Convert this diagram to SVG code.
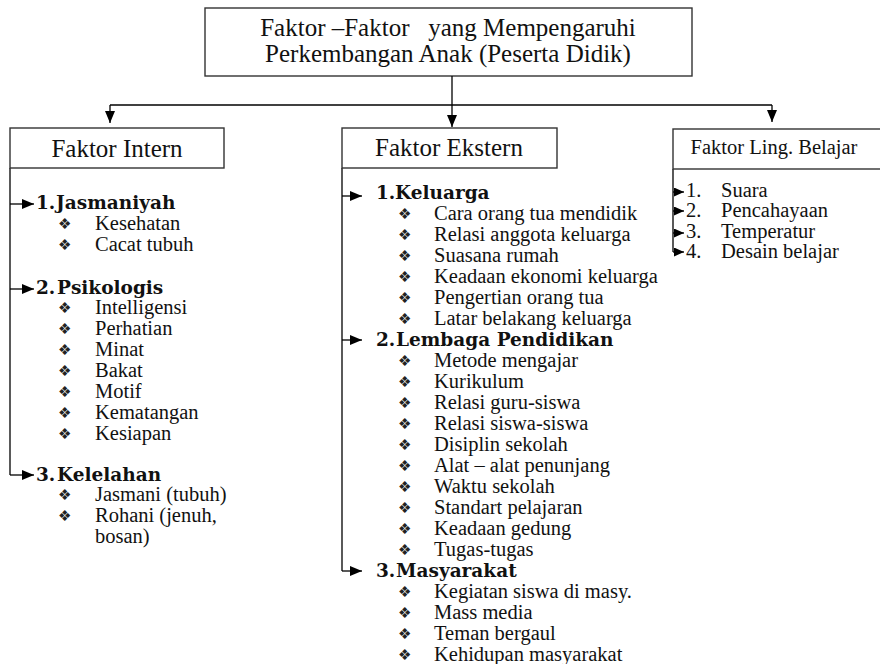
<svg xmlns="http://www.w3.org/2000/svg" width="880" height="664" viewBox="0 0 880 664">
<defs>
<marker id="ah" viewBox="0 0 12 10" refX="12" refY="5" markerWidth="12" markerHeight="10" markerUnits="userSpaceOnUse" orient="auto"><path d="M0,0 L12,5 L0,10 z" fill="#000"/></marker>
<marker id="ahs" viewBox="0 0 10 9" refX="10" refY="4.5" markerWidth="10" markerHeight="9" markerUnits="userSpaceOnUse" orient="auto"><path d="M0,0 L10,4.5 L0,9 z" fill="#000"/></marker>
</defs>
<style>
text{font-family:"Liberation Serif","Times New Roman",serif;fill:#111}
.t{font-size:25px}
.h{font-family:"DejaVu Serif",serif;font-size:18.5px;font-weight:bold}
.b{font-size:20.5px}
.bl{font-family:"DejaVu Sans",sans-serif;font-size:15px;fill:#222}
.box{fill:#fff;stroke:#333;stroke-width:1.4}
.ln{fill:none;stroke:#000;stroke-width:1.3}
</style>
<rect width="880" height="664" fill="#fff"/>

<g id="title">
<rect class="box" x="205" y="8" width="487" height="68"/>
<text class="t" x="448" y="36" text-anchor="middle" xml:space="preserve">Faktor –Faktor   yang Mempengaruhi</text>
<text class="t" x="448" y="62" text-anchor="middle">Perkembangan Anak (Peserta Didik)</text>
</g>

<g id="connectors">
<path class="ln" d="M452,76 V127" marker-end="url(#ah)"/>
<path class="ln" d="M110,105 H772"/>
<path class="ln" d="M110,105 V123" marker-end="url(#ah)"/>
<path class="ln" d="M772,105 V122" marker-end="url(#ah)"/>
<path class="ln" d="M10,168 V475"/>
<path class="ln" d="M10,204 H34" marker-end="url(#ah)"/>
<path class="ln" d="M10,289 H34" marker-end="url(#ah)"/>
<path class="ln" d="M10,475 H34" marker-end="url(#ah)"/>
<path class="ln" d="M342,168 V571"/>
<path class="ln" d="M342,196 H362" marker-end="url(#ah)"/>
<path class="ln" d="M342,340 H362" marker-end="url(#ah)"/>
<path class="ln" d="M342,571 H362" marker-end="url(#ah)"/>
<path class="ln" d="M673,169 V252"/>
<path class="ln" d="M673,192 H684" marker-end="url(#ahs)"/>
<path class="ln" d="M673,211 H684" marker-end="url(#ahs)"/>
<path class="ln" d="M673,233 H684" marker-end="url(#ahs)"/>
<path class="ln" d="M673,252 H684" marker-end="url(#ahs)"/>
</g>

<g id="intern">
<rect class="box" x="10" y="128" width="214" height="40"/>
<text class="t" x="117" y="157" text-anchor="middle">Faktor Intern</text>
<text class="h" x="36" y="209">1.</text><text class="h" x="56" y="209">Jasmaniyah</text>
<text class="bl" x="58" y="229">❖︎</text><text class="b" x="95" y="230">Kesehatan</text>
<text class="bl" x="58" y="250">❖︎</text><text class="b" x="95" y="251">Cacat tubuh</text>
<text class="h" x="36" y="294">2.</text><text class="h" x="57" y="294">Psikologis</text>
<text class="bl" x="58" y="313">❖︎</text><text class="b" x="95" y="314">Intelligensi</text>
<text class="bl" x="58" y="334">❖︎</text><text class="b" x="95" y="335">Perhatian</text>
<text class="bl" x="58" y="355">❖︎</text><text class="b" x="95" y="356">Minat</text>
<text class="bl" x="58" y="376">❖︎</text><text class="b" x="95" y="377">Bakat</text>
<text class="bl" x="58" y="397">❖︎</text><text class="b" x="95" y="398">Motif</text>
<text class="bl" x="58" y="418">❖︎</text><text class="b" x="95" y="419">Kematangan</text>
<text class="bl" x="58" y="439">❖︎</text><text class="b" x="95" y="440">Kesiapan</text>
<text class="h" x="36" y="481">3.</text><text class="h" x="57" y="481">Kelelahan</text>
<text class="bl" x="58" y="500">❖︎</text><text class="b" x="95" y="501">Jasmani (tubuh)</text>
<text class="bl" x="58" y="521">❖︎</text><text class="b" x="95" y="522">Rohani (jenuh,</text>
<text class="b" x="95" y="543">bosan)</text>
</g>

<g id="ekstern">
<rect class="box" x="342" y="128" width="215" height="40"/>
<text class="t" x="449" y="156" text-anchor="middle">Faktor Ekstern</text>
<text class="h" x="376" y="199">1.</text><text class="h" x="395" y="199">Keluarga</text>
<text class="bl" x="398" y="219">❖︎</text><text class="b" x="434" y="220">Cara orang tua mendidik</text>
<text class="bl" x="398" y="240">❖︎</text><text class="b" x="434" y="241">Relasi anggota keluarga</text>
<text class="bl" x="398" y="261">❖︎</text><text class="b" x="434" y="262">Suasana rumah</text>
<text class="bl" x="398" y="282">❖︎</text><text class="b" x="434" y="283">Keadaan ekonomi keluarga</text>
<text class="bl" x="398" y="303">❖︎</text><text class="b" x="434" y="304">Pengertian orang tua</text>
<text class="bl" x="398" y="324">❖︎</text><text class="b" x="434" y="325">Latar belakang keluarga</text>
<text class="h" x="376" y="346">2.</text><text class="h" x="396" y="346">Lembaga Pendidikan</text>
<text class="bl" x="398" y="366">❖︎</text><text class="b" x="434" y="367">Metode mengajar</text>
<text class="bl" x="398" y="387">❖︎</text><text class="b" x="434" y="388">Kurikulum</text>
<text class="bl" x="398" y="408">❖︎</text><text class="b" x="434" y="409">Relasi guru-siswa</text>
<text class="bl" x="398" y="429">❖︎</text><text class="b" x="434" y="430">Relasi siswa-siswa</text>
<text class="bl" x="398" y="450">❖︎</text><text class="b" x="434" y="451">Disiplin sekolah</text>
<text class="bl" x="398" y="471">❖︎</text><text class="b" x="434" y="472">Alat – alat penunjang</text>
<text class="bl" x="398" y="492">❖︎</text><text class="b" x="434" y="493">Waktu sekolah</text>
<text class="bl" x="398" y="513">❖︎</text><text class="b" x="434" y="514">Standart pelajaran</text>
<text class="bl" x="398" y="534">❖︎</text><text class="b" x="434" y="535">Keadaan gedung</text>
<text class="bl" x="398" y="555">❖︎</text><text class="b" x="434" y="556">Tugas-tugas</text>
<text class="h" x="376" y="577">3.</text><text class="h" x="396" y="577">Masyarakat</text>
<text class="bl" x="398" y="597">❖︎</text><text class="b" x="434" y="598">Kegiatan siswa di masy.</text>
<text class="bl" x="398" y="618">❖︎</text><text class="b" x="434" y="619">Mass media</text>
<text class="bl" x="398" y="639">❖︎</text><text class="b" x="434" y="640">Teman bergaul</text>
<text class="bl" x="398" y="660">❖︎</text><text class="b" x="434" y="661">Kehidupan masyarakat</text>
</g>

<g id="lingkungan">
<rect class="box" x="673" y="129" width="215" height="40"/>
<text class="b" x="774" y="154" text-anchor="middle">Faktor Ling. Belajar</text>
<text class="b" x="686" y="197">1.</text><text class="b" x="721" y="197">Suara</text>
<text class="b" x="686" y="217">2.</text><text class="b" x="721" y="217">Pencahayaan</text>
<text class="b" x="686" y="238">3.</text><text class="b" x="721" y="238">Temperatur</text>
<text class="b" x="686" y="258">4.</text><text class="b" x="721" y="258">Desain belajar</text>
</g>
</svg>
